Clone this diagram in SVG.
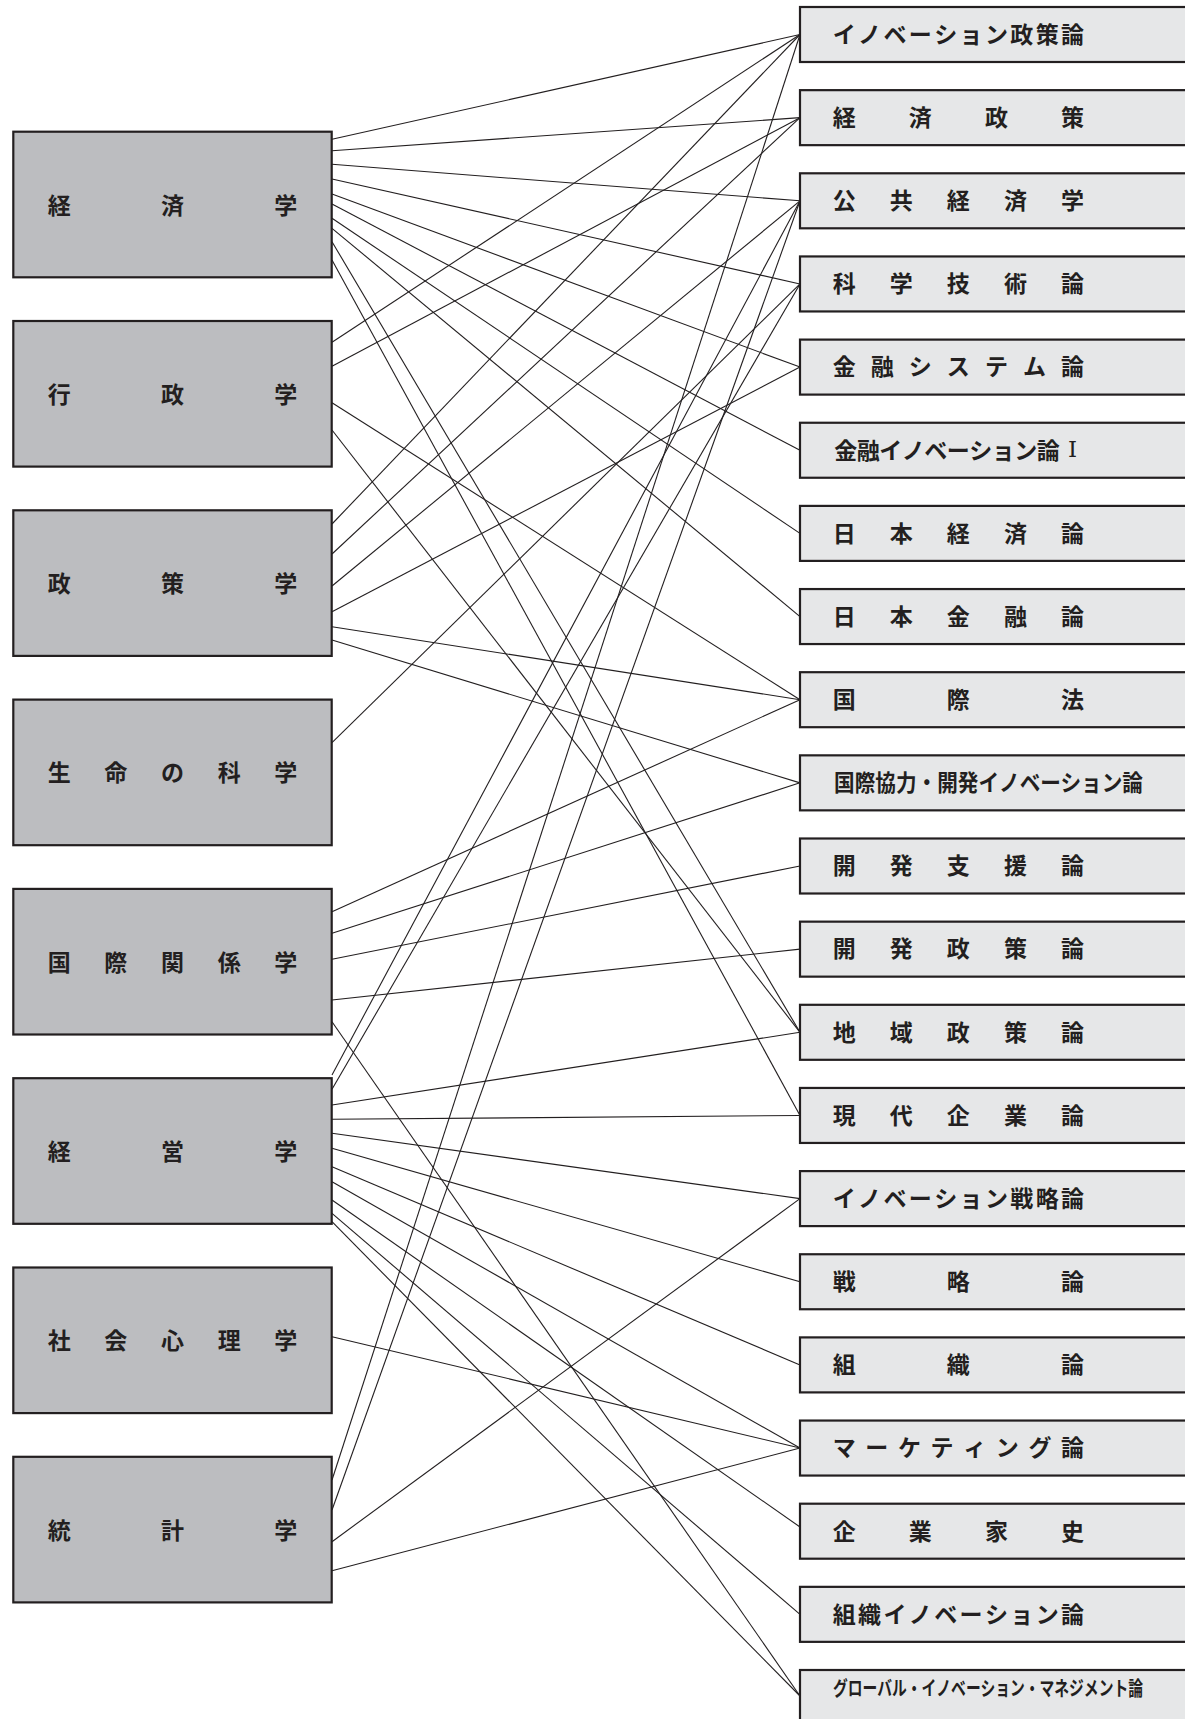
<svg xmlns="http://www.w3.org/2000/svg" width="1185" height="1719" viewBox="0 0 1185 1719">
<style>
.bg{fill:#ffffff}
.lbox{fill:#bcbdc0;stroke:#231f20;stroke-width:2.2}
.rbox{fill:#e6e7e8;stroke:#231f20;stroke-width:2.2}
.cn line{stroke:#231f20;stroke-width:1.1;fill:none}
text{font-family:"Noto Sans CJK JP","Noto Sans",sans-serif;font-size:23px;font-weight:600;fill:#231f20;dominant-baseline:central}
.m{text-anchor:middle}
.roman{font-family:"DejaVu Serif","Liberation Serif","Noto Sans CJK JP",serif;font-weight:normal}
</style>
<rect class="bg" x="0" y="0" width="1185" height="1719"/>
<g id="connectors" class="cn">
<line x1="332" y1="139.3" x2="800" y2="34.5"/>
<line x1="332" y1="150.7" x2="800" y2="117.65"/>
<line x1="332" y1="164.3" x2="800" y2="200.8"/>
<line x1="332" y1="179" x2="800" y2="283.95"/>
<line x1="332" y1="194" x2="800" y2="367.1"/>
<line x1="332" y1="204" x2="800" y2="450.25"/>
<line x1="332" y1="218.3" x2="800" y2="533.4"/>
<line x1="332" y1="228.3" x2="800" y2="616.55"/>
<line x1="332" y1="241.7" x2="800" y2="1032.3"/>
<line x1="332" y1="260" x2="800" y2="1115.45"/>
<line x1="332" y1="342.3" x2="800" y2="34.5"/>
<line x1="332" y1="366.3" x2="800" y2="117.65"/>
<line x1="332" y1="402.7" x2="800" y2="699.7"/>
<line x1="332" y1="430" x2="800" y2="1032.3"/>
<line x1="332" y1="524" x2="800" y2="34.5"/>
<line x1="332" y1="554" x2="800" y2="117.65"/>
<line x1="332" y1="586" x2="800" y2="200.8"/>
<line x1="332" y1="611.7" x2="800" y2="367.1"/>
<line x1="332" y1="626.7" x2="800" y2="699.7"/>
<line x1="332" y1="640" x2="800" y2="782.85"/>
<line x1="332" y1="742.7" x2="800" y2="283.95"/>
<line x1="332" y1="911.7" x2="800" y2="699.7"/>
<line x1="332" y1="933.3" x2="800" y2="782.85"/>
<line x1="332" y1="959.3" x2="800" y2="866"/>
<line x1="332" y1="1000" x2="800" y2="949.15"/>
<line x1="332" y1="1021.7" x2="800" y2="1696"/>
<line x1="332" y1="1075" x2="800" y2="200.8"/>
<line x1="332" y1="1089.3" x2="800" y2="283.95"/>
<line x1="332" y1="1105" x2="800" y2="1032.3"/>
<line x1="332" y1="1119.3" x2="800" y2="1115.45"/>
<line x1="332" y1="1133.3" x2="800" y2="1198.6"/>
<line x1="332" y1="1148.3" x2="800" y2="1281.75"/>
<line x1="332" y1="1166.7" x2="800" y2="1364.9"/>
<line x1="332" y1="1181.7" x2="800" y2="1448.05"/>
<line x1="332" y1="1200" x2="800" y2="1527"/>
<line x1="332" y1="1213.3" x2="800" y2="1614.35"/>
<line x1="332" y1="1221.7" x2="800" y2="1696"/>
<line x1="332" y1="1336.7" x2="800" y2="1448.05"/>
<line x1="332" y1="1480" x2="800" y2="34.5"/>
<line x1="332" y1="1510" x2="800" y2="200.8"/>
<line x1="332" y1="1541.7" x2="800" y2="1198.6"/>
<line x1="332" y1="1570.7" x2="800" y2="1448.05"/>
</g>
<g id="L-keizaigaku"><rect class="lbox" x="13.3" y="131.7" width="318.4" height="145.6"/><text class="m" x="59.2 172.5 285.8" y="203.5">経済学</text></g>
<g id="L-gyoseigaku"><rect class="lbox" x="13.3" y="321" width="318.4" height="145.6"/><text class="m" x="59.2 172.5 285.8" y="392.8">行政学</text></g>
<g id="L-seisakugaku"><rect class="lbox" x="13.3" y="510.3" width="318.4" height="145.6"/><text class="m" x="59.2 172.5 285.8" y="582.1">政策学</text></g>
<g id="L-seimei"><rect class="lbox" x="13.3" y="699.6" width="318.4" height="145.6"/><text class="m" x="59.2 115.85 172.5 229.15 285.8" y="771.4">生命の科学</text></g>
<g id="L-kokusai"><rect class="lbox" x="13.3" y="888.9" width="318.4" height="145.6"/><text class="m" x="59.2 115.85 172.5 229.15 285.8" y="960.7">国際関係学</text></g>
<g id="L-keiei"><rect class="lbox" x="13.3" y="1078.2" width="318.4" height="145.6"/><text class="m" x="59.2 172.5 285.8" y="1150">経営学</text></g>
<g id="L-shakai"><rect class="lbox" x="13.3" y="1267.5" width="318.4" height="145.6"/><text class="m" x="59.2 115.85 172.5 229.15 285.8" y="1339.3">社会心理学</text></g>
<g id="L-toukei"><rect class="lbox" x="13.3" y="1456.8" width="318.4" height="145.6"/><text class="m" x="59.2 172.5 285.8" y="1528.6">統計学</text></g>
<g id="R01"><rect class="rbox" x="800" y="7" width="388" height="55"/><text class="m" x="844.2 869.57 894.93 920.3 945.67 971.03 996.4 1021.77 1047.13 1072.5" y="32.8">イノベーション政策論</text></g>
<g id="R02"><rect class="rbox" x="800" y="90.15" width="388" height="55"/><text class="m" x="844.2 920.3 996.4 1072.5" y="115.95">経済政策</text></g>
<g id="R03"><rect class="rbox" x="800" y="173.3" width="388" height="55"/><text class="m" x="844.2 901.28 958.35 1015.43 1072.5" y="199.1">公共経済学</text></g>
<g id="R04"><rect class="rbox" x="800" y="256.45" width="388" height="55"/><text class="m" x="844.2 901.28 958.35 1015.43 1072.5" y="282.25">科学技術論</text></g>
<g id="R05"><rect class="rbox" x="800" y="339.6" width="388" height="55"/><text class="m" x="844.2 882.25 920.3 958.35 996.4 1034.45 1072.5" y="365.4">金融システム論</text></g>
<g id="R06"><rect class="rbox" x="800" y="422.75" width="388" height="55"/><text class="m" x="845.8 868.3 890.8 913.3 935.8 958.3 980.8 1003.3 1025.8 1048.3" y="448.55">金融イノベーション論</text><text class="m roman" x="1072.5" y="448.55">Ⅰ</text></g>
<g id="R07"><rect class="rbox" x="800" y="505.9" width="388" height="55"/><text class="m" x="844.2 901.28 958.35 1015.43 1072.5" y="531.7">日本経済論</text></g>
<g id="R08"><rect class="rbox" x="800" y="589.05" width="388" height="55"/><text class="m" x="844.2 901.28 958.35 1015.43 1072.5" y="614.85">日本金融論</text></g>
<g id="R09"><rect class="rbox" x="800" y="672.2" width="388" height="55"/><text class="m" x="844.2 958.35 1072.5" y="698">国際法</text></g>
<g id="R10"><rect class="rbox" x="800" y="755.35" width="388" height="55"/><text x="834" y="781.15" textLength="309" lengthAdjust="spacingAndGlyphs">国際協力・開発イノベーション論</text></g>
<g id="R11"><rect class="rbox" x="800" y="838.5" width="388" height="55"/><text class="m" x="844.2 901.28 958.35 1015.43 1072.5" y="864.3">開発支援論</text></g>
<g id="R12"><rect class="rbox" x="800" y="921.65" width="388" height="55"/><text class="m" x="844.2 901.28 958.35 1015.43 1072.5" y="947.45">開発政策論</text></g>
<g id="R13"><rect class="rbox" x="800" y="1004.8" width="388" height="55"/><text class="m" x="844.2 901.28 958.35 1015.43 1072.5" y="1030.6">地域政策論</text></g>
<g id="R14"><rect class="rbox" x="800" y="1087.95" width="388" height="55"/><text class="m" x="844.2 901.28 958.35 1015.43 1072.5" y="1113.75">現代企業論</text></g>
<g id="R15"><rect class="rbox" x="800" y="1171.1" width="388" height="55"/><text class="m" x="844.2 869.57 894.93 920.3 945.67 971.03 996.4 1021.77 1047.13 1072.5" y="1196.9">イノベーション戦略論</text></g>
<g id="R16"><rect class="rbox" x="800" y="1254.25" width="388" height="55"/><text class="m" x="844.2 958.35 1072.5" y="1280.05">戦略論</text></g>
<g id="R17"><rect class="rbox" x="800" y="1337.4" width="388" height="55"/><text class="m" x="844.2 958.35 1072.5" y="1363.2">組織論</text></g>
<g id="R18"><rect class="rbox" x="800" y="1420.55" width="388" height="55"/><text class="m" x="844.2 876.81 909.43 942.04 974.66 1007.27 1039.89 1072.5" y="1446.35">マーケティング論</text></g>
<g id="R19"><rect class="rbox" x="800" y="1503.7" width="388" height="55"/><text class="m" x="844.2 920.3 996.4 1072.5" y="1529.5">企業家史</text></g>
<g id="R20"><rect class="rbox" x="800" y="1586.85" width="388" height="55"/><text class="m" x="844.2 869.57 894.93 920.3 945.67 971.03 996.4 1021.77 1047.13 1072.5" y="1612.65">組織イノベーション論</text></g>
<g id="R21"><rect class="rbox" x="800" y="1670" width="388" height="50.2"/><text x="833" y="1687" style="font-size:20px" textLength="310" lengthAdjust="spacingAndGlyphs">グローバル・イノベーション・マネジメント論</text></g>
</svg>
